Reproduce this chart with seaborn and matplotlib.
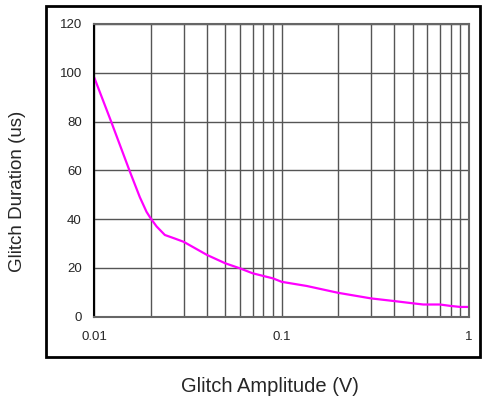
import pandas as pd
import seaborn as sns
import matplotlib.pyplot as plt
from matplotlib.patches import Rectangle
from matplotlib.ticker import FixedLocator, FixedFormatter, LogLocator, NullFormatter

# Werte
amplitude = [0.01, 0.0123, 0.0155, 0.0175, 0.019, 0.02, 0.0215, 0.0238, 0.027, 0.03, 0.04,
             0.05, 0.06, 0.07, 0.09, 0.1, 0.136, 0.2, 0.3, 0.4, 0.5, 0.57, 0.7, 0.8, 0.9, 1.0]
duration = [98, 80, 59.4, 49, 43, 40.3, 37, 33.5, 32, 30.7, 25.3,
            21.9, 19.8, 17.8, 15.7, 14.3, 12.6, 9.8, 7.5, 6.4, 5.5, 5.0, 5.0, 4.4, 4.0, 4.0]
y_ticks = [0, 20, 40, 60, 80, 100, 120]
x_ticks = [0.01, 0.1, 1]
x_labels = ['0.01', '0.1', '1']

df = pd.DataFrame({'amplitude': amplitude, 'duration': duration})

sns.set_style('white')
plt.rcParams['font.family'] = ['Liberation Sans', 'DejaVu Sans']

fig = plt.figure(figsize=(4.83, 4.0), dpi=100)
ax = fig.add_axes([94.3 / 483, 1 - 316.7 / 400, (469 - 94.3) / 483, (316.7 - 24) / 400])

sns.lineplot(data=df, x='amplitude', y='duration', color='#ff00ff', linewidth=1.6, ax=ax)

ax.set_xscale('log')
ax.set_xlim(0.01, 1)
ax.set_ylim(0, 120)
ax.xaxis.set_major_locator(FixedLocator(x_ticks))
ax.xaxis.set_major_formatter(FixedFormatter(x_labels))
ax.xaxis.set_minor_locator(LogLocator(base=10, subs=range(2, 10)))
ax.xaxis.set_minor_formatter(NullFormatter())
ax.set_yticks(y_ticks)

ax.grid(True, which='both', axis='x', color='#555555', linewidth=1.0)
ax.grid(True, which='major', axis='y', color='#555555', linewidth=1.0)
ax.tick_params(axis='both', which='both', length=0, labelsize=9.5)
ax.tick_params(axis='y', pad=9)
ax.tick_params(axis='x', pad=10)
for side in ['left', 'right', 'top', 'bottom']:
    ax.spines[side].set_color('#666666')
    ax.spines[side].set_linewidth(1.5)
ax.spines['left'].set_color('#000000')

ax.set_xlabel('')
ax.set_ylabel('')
fig.text(270 / 483, 1 - 387 / 400, 'Glitch Amplitude (V)', ha='center', va='center', fontsize=14.5)
fig.text(18 / 483, 1 - 191 / 400, 'Glitch Duration (us)', ha='center', va='center',
         rotation=90, fontsize=13.5)

# Rahmen um das Diagramm
fig.patches.append(Rectangle((46 / 483, 1 - 357 / 400), (480 - 46) / 483, (357 - 6) / 400,
                             transform=fig.transFigure, fill=False, edgecolor='black',
                             linewidth=2))

plt.savefig('out.png', dpi=100)
